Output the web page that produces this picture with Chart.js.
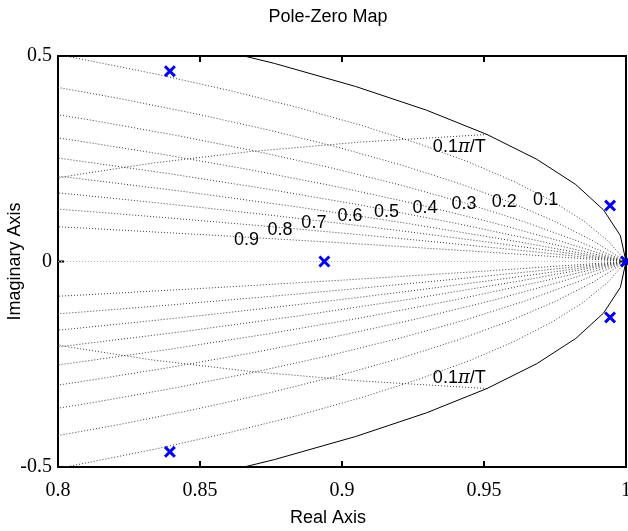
<!DOCTYPE html>
<html>
<head>
<meta charset="utf-8">
<script src="https://cdn.jsdelivr.net/npm/chart.js@4.4.1/dist/chart.umd.min.js"></script>
<style>
html,body{margin:0;padding:0;background:#fff;overflow:hidden;}
#wrap{width:628px;height:531px;position:relative;}
</style>
</head>
<body>
<div id="wrap"><canvas id="c"></canvas></div>
<script>
// ---------- values ----------
const xTickValues = [0.8, 0.85, 0.9, 0.95, 1];
const xTickLabels = ['0.8', '0.85', '0.9', '0.95', '1'];
const yTickValues = [-0.5, 0, 0.5];
const yTickLabels = ['-0.5', '0', '0.5'];

// poles (x markers)
const poleRe = [0.8394, 0.8394, 0.8938, 0.9944, 0.9944, 1.0];
const poleIm = [0.463, -0.463, 0, 0.136, -0.136, 0];

// upper half of the unit circle (polygon vertices), mirrored for lower half
const unitArc = [[1,0],[0.998027,0.062791],[0.992115,0.125333],[0.982287,0.187381],[0.968583,0.248690],
  [0.951057,0.309017],[0.929776,0.368125],[0.904827,0.425779],[0.876307,0.481754],[0.844328,0.535827]];

// constant damping lines (upper half), zeta = 0.1 ... 0.9
const zeta1Line = [[1,0],[0.99374,0.04973],[0.98505,0.09883],[0.97398,0.14720],[0.96057,0.19472],[0.94487,0.24127],
  [0.92697,0.28674],[0.90691,0.33105],[0.88477,0.37408],[0.86063,0.41573],[0.83457,0.45593],[0.80668,0.49458],[0.77704,0.53160]];
const zeta2Line = [[1,0],[0.98861,0.04947],[0.97489,0.09781],[0.95896,0.14493],[0.94087,0.19072],[0.92071,0.23510],
  [0.89859,0.27797],[0.87460,0.31926],[0.84885,0.35889],[0.82143,0.39679],[0.79243,0.43291]];
const zeta3Line = [[1,0],[0.98317,0.04920],[0.96419,0.09674],[0.94321,0.14256],[0.92033,0.18656],[0.89565,0.22870],
  [0.86933,0.26891],[0.84147,0.30716],[0.81219,0.34339],[0.78163,0.37757]];
const zeta4Line = [[1,0],[0.97719,0.04890],[0.95251,0.09557],[0.92611,0.13997],[0.89816,0.18207],[0.86876,0.22183],
  [0.83810,0.25925],[0.80630,0.29432],[0.77352,0.32704]];
const zeta5Line = [[1,0],[0.97033,0.04856],[0.93918,0.09423],[0.90674,0.13704],[0.87318,0.17700],[0.83869,0.21415],
  [0.80342,0.24852],[0.76750,0.28016]];
const zeta6Line = [[1,0],[0.96199,0.04814],[0.92310,0.09262],[0.88356,0.13354],[0.84356,0.17100],[0.80326,0.20510],[0.76286,0.23598]];
const zeta7Line = [[1,0],[0.97549,0.02439],[0.95098,0.04759],[0.92651,0.06962],[0.90210,0.09051],[0.87778,0.11030],
  [0.85358,0.12901],[0.82951,0.14666],[0.80560,0.16330],[0.75833,0.19363]];
const zeta8Line = [[1,0],[0.96691,0.02418],[0.93434,0.04676],[0.90229,0.06780],[0.87079,0.08737],[0.83988,0.10554],
  [0.80954,0.12235],[0.75067,0.15217]];
const zeta9Line = [[1,0],[0.94940,0.02374],[0.90078,0.04508],[0.85413,0.06418],[0.80937,0.08121],[0.76651,0.09632]];

// natural frequency curve 0.1*pi/T (upper half)
const wnLine = [[0.951057,0.309017],[0.906573,0.290690],[0.867282,0.267123],[0.833328,0.239552],[0.804677,0.209039],[0.781110,0.176432]];

// real axis
const realAxisLine = [[0.8,0],[1,0]];

// grid labels
const dampLabelText = ['0.9','0.8','0.7','0.6','0.5','0.4','0.3','0.2','0.1'];
const dampLabelRe = [0.8664, 0.8782, 0.8901, 0.9028, 0.9157, 0.9292, 0.9430, 0.9571, 0.9717];
const dampLabelIm = [0.0528, 0.0771, 0.0940, 0.1095, 0.1200, 0.1310, 0.1387, 0.1450, 0.1484];
const wnLabelRe = [0.9413, 0.9413];
const wnLabelIm = [0.2781, -0.2847];

// ---------- helpers ----------
const up = pts => pts.map(p => ({x: p[0], y: p[1]}));
const down = pts => pts.map(p => ({x: p[0], y: -p[1]}));

const dotted = {type: 'scatter', showLine: true, pointRadius: 0, borderColor: '#3c3c3c', borderWidth: 1,
  borderDash: [1, 2], fill: false, tension: 0};

const datasets = [];
datasets.push({
  type: 'scatter', label: 'Poles',
  data: poleRe.map((r, i) => ({x: r, y: poleIm[i]})),
  pointStyle: 'crossRot', pointRadius: 7, pointBorderWidth: 3,
  pointBorderColor: '#0000ff', borderColor: '#0000ff', clip: false
});
datasets.push({
  type: 'scatter', label: 'Unit circle', showLine: true, pointRadius: 0,
  borderColor: '#000', borderWidth: 1, fill: false,
  data: down(unitArc).reverse().concat(up(unitArc).slice(1))
});
[zeta1Line, zeta2Line, zeta3Line, zeta4Line, zeta5Line, zeta6Line, zeta7Line, zeta8Line, zeta9Line, wnLine].forEach(l => {
  datasets.push(Object.assign({}, dotted, {data: up(l)}));
  datasets.push(Object.assign({}, dotted, {data: down(l)}));
});
datasets.push(Object.assign({}, dotted, {data: up(realAxisLine), borderColor: '#b8b8b8'}));

const SANS = '"Liberation Sans", Arial, Helvetica, sans-serif';
const SERIF = '"Liberation Serif", "Times New Roman", serif';

let savedXLeft = null;
const frameAndLabels = {
  id: 'frameAndLabels',
  afterLayout(chart) {
    // the reference centres the title slightly left of the plot centre
    if (chart.titleBlock) { chart.titleBlock.left = 30; }
  },
  beforeDraw(chart) {
    // centre the x-axis title the same way while the scale draws
    const x = chart.scales.x;
    savedXLeft = x.left;
    x.left = 30;
  },
  beforeDatasetsDraw(chart) {
    const {ctx, chartArea: a, scales: {x, y}} = chart;
    if (savedXLeft !== null) { x.left = savedXLeft; }
    ctx.save();
    ctx.strokeStyle = '#000';
    ctx.lineWidth = 2;
    ctx.strokeRect(a.left, a.top, a.right - a.left, a.bottom - a.top);
    ctx.beginPath();
    xTickValues.forEach(v => {
      const px = x.getPixelForValue(v);
      ctx.moveTo(px, a.bottom); ctx.lineTo(px, a.bottom - 6);
      ctx.moveTo(px, a.top); ctx.lineTo(px, a.top + 6);
    });
    yTickValues.forEach(v => {
      const py = y.getPixelForValue(v);
      ctx.moveTo(a.left, py); ctx.lineTo(a.left + 6, py);
      ctx.moveTo(a.right, py); ctx.lineTo(a.right - 6, py);
    });
    ctx.stroke();
    ctx.restore();
  },
  afterDatasetsDraw(chart) {
    const {ctx, scales: {x, y}} = chart;
    ctx.save();
    ctx.fillStyle = '#000';
    ctx.textBaseline = 'middle';
    const f = '18px ' + SANS;
    const fi = 'italic 18px "DejaVu Serif", "Liberation Serif", serif';
    ctx.font = f;
    ctx.textAlign = 'center';
    dampLabelText.forEach((t, i) => {
      ctx.fillText(t, x.getPixelForValue(dampLabelRe[i]), y.getPixelForValue(dampLabelIm[i]));
    });
    ctx.textAlign = 'left';
    wnLabelRe.forEach((r, i) => {
      const cx = x.getPixelForValue(r), cy = y.getPixelForValue(wnLabelIm[i]);
      ctx.font = f; const w1 = ctx.measureText('0.1').width; const w3 = ctx.measureText('/T').width;
      ctx.font = fi; const w2 = ctx.measureText('\u03c0').width;
      let sx = cx - (w1 + w2 + w3) / 2;
      ctx.font = f; ctx.fillText('0.1', sx, cy); sx += w1;
      ctx.font = fi; ctx.fillText('\u03c0', sx, cy); sx += w2;
      ctx.font = f; ctx.fillText('/T', sx, cy);
    });
    ctx.restore();
  }
};

new Chart(document.getElementById('c'), {
  type: 'scatter',
  data: {datasets},
  plugins: [frameAndLabels],
  options: {
    responsive: true, maintainAspectRatio: false, animation: false, devicePixelRatio: 1,
    events: [],
    layout: {autoPadding: false, padding: {left: 0, right: 2, top: 0, bottom: 0}},
    plugins: {
      legend: {display: false}, tooltip: {enabled: false},
      title: {display: true, text: 'Pole-Zero Map', color: '#000',
        font: {family: SANS, size: 18, weight: 'normal', lineHeight: 1},
        padding: {top: 8, bottom: 30}}
    },
    scales: {
      x: {
        type: 'linear', min: 0.8, max: 1,
        afterBuildTicks: s => { s.ticks = xTickValues.map(v => ({value: v})); },
        ticks: {callback: (v, i) => xTickLabels[i], color: '#000', padding: 12, maxRotation: 0,
          font: {family: SERIF, size: 20}},
        grid: {display: false, drawTicks: false}, border: {display: false},
        title: {display: true, text: 'Real Axis', color: '#000', padding: {top: 2, bottom: 2},
          font: {family: SANS, size: 18}},
        afterFit: s => { s.height = 64; s.paddingLeft = 0; s.paddingRight = 0; }
      },
      y: {
        type: 'linear', min: -0.5, max: 0.5,
        afterBuildTicks: s => { s.ticks = yTickValues.map(v => ({value: v})); },
        ticks: {callback: (v, i) => yTickLabels[i], color: '#000', padding: 6,
          font: {family: SERIF, size: 20}},
        grid: {display: false, drawTicks: false}, border: {display: false},
        title: {display: true, text: 'Imaginary Axis', color: '#000', padding: {top: 4, bottom: 4},
          font: {family: SANS, size: 18}},
        afterFit: s => { s.width = 58; s.paddingTop = 0; s.paddingBottom = 0; }
      }
    }
  }
});
</script>
</body>
</html>
